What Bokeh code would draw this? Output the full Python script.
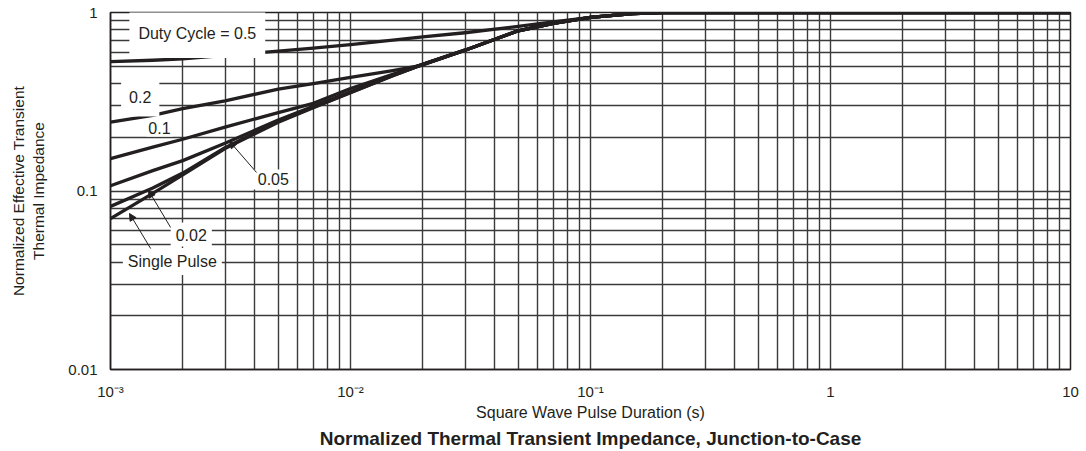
from bokeh.plotting import figure
from bokeh.models import FixedTicker, Label, Arrow, NormalHead, Title
from bokeh.embed import file_html
from bokeh.resources import INLINE

# ---- data (x: pulse duration in s, y: normalized Zth) ----
pulse_s = [0.001, 0.0015, 0.002, 0.003, 0.005, 0.007, 0.01, 0.015, 0.02, 0.03,
           0.05, 0.07, 0.1, 0.15, 0.2, 0.5, 1, 10]
z_d05 = [0.531, 0.54, 0.55, 0.575, 0.607, 0.632, 0.66, 0.70, 0.73, 0.77,
         0.835, 0.885, 0.94, 0.985, 1.0, 1.0, 1.0, 1.0]
z_d02 = [0.243, 0.265, 0.289, 0.32, 0.372, 0.40, 0.433, 0.473, 0.508, 0.615,
         0.79, 0.87, 0.94, 0.985, 1.0, 1.0, 1.0, 1.0]
z_d01 = [0.152, 0.176, 0.195, 0.228, 0.275, 0.31, 0.375, 0.45, 0.512, 0.615,
         0.79, 0.87, 0.94, 0.985, 1.0, 1.0, 1.0, 1.0]
z_d005 = [0.107, 0.13, 0.148, 0.185, 0.25, 0.298, 0.36, 0.445, 0.512, 0.615,
          0.79, 0.87, 0.94, 0.985, 1.0, 1.0, 1.0, 1.0]
z_d002 = [0.082, 0.104, 0.126, 0.175, 0.245, 0.295, 0.357, 0.443, 0.512, 0.615,
          0.79, 0.87, 0.94, 0.985, 1.0, 1.0, 1.0, 1.0]
z_single = [0.070, 0.097, 0.123, 0.173, 0.243, 0.293, 0.355, 0.442, 0.512, 0.615,
            0.79, 0.87, 0.94, 0.985, 1.0, 1.0, 1.0, 1.0]
series = [z_d05, z_d02, z_d01, z_d005, z_d002, z_single]

x_major = [0.001, 0.01, 0.1, 1, 10]
x_labels = ["10⁻³", "10⁻²", "10⁻¹", "1", "10"]
y_major = [0.01, 0.1, 1]
y_labels = ["0.01", "0.1", "1"]

curve_labels = ["Duty Cycle = 0.5", "0.2", "0.1", "0.05", "0.02", "Single Pulse"]
label_x = [2.3e-3, 1.33e-3, 1.60e-3, 4.77e-3, 2.17e-3, 1.81e-3]
label_y = [0.763, 0.338, 0.224, 0.116, 0.057, 0.0403]
label_pad = [(9, 16), (8, 14), (2, 2), (6, 4), (5, 6), (5, 5)]

# arrows (from label to curve) for 0.05, 0.02, Single Pulse
arrow_x0 = [4.06e-3, 1.78e-3, 1.47e-3]
arrow_y0 = [0.127, 0.0625, 0.0476]
arrow_x1 = [3.13e-3, 1.44e-3, 1.20e-3]
arrow_y1 = [0.19, 0.1007, 0.0748]

title_text = "Normalized Thermal Transient Impedance, Junction-to-Case"
x_title = "Square Wave Pulse Duration (s)"
y_title = "Normalized Effective Transient\nThermal Impedance"

FONT = "Liberation Sans"
INK = "#231f20"
GRID = "#3a3a3a"


def minor_of(majors):
    out = []
    for m in majors[:-1]:
        out += [m * k for k in range(2, 10)]
    return out


p = figure(width=1080, height=450, x_axis_type="log", y_axis_type="log",
           x_range=(1e-3, 10), y_range=(0.01, 1),
           output_backend="svg", toolbar_location=None,
           min_border_left=110, min_border_right=10, min_border_top=12,
           min_border_bottom=81)

xt = FixedTicker(ticks=x_major, minor_ticks=minor_of(x_major))
yt = FixedTicker(ticks=y_major, minor_ticks=minor_of(y_major))
p.xaxis.ticker = xt
p.yaxis.ticker = yt
p.xgrid.ticker = xt
p.ygrid.ticker = yt
p.xaxis.major_label_overrides = dict(zip(x_major, x_labels))
p.yaxis.major_label_overrides = dict(zip(y_major, y_labels))

for ax in (p.xaxis, p.yaxis):
    ax.major_tick_in = 0
    ax.major_tick_out = 0
    ax.minor_tick_in = 0
    ax.minor_tick_out = 0
    ax.axis_line_color = INK
    ax.axis_line_width = 1.5
    ax.major_label_text_font = FONT
    ax.major_label_text_font_size = "15px"
    ax.major_label_text_color = INK
    ax.axis_label_text_font = FONT
    ax.axis_label_text_font_style = "normal"
    ax.axis_label_text_color = INK

p.xaxis.axis_label_text_font_size = "16px"
p.yaxis.axis_label_text_font_size = "15.5px"
p.xaxis.axis_label = x_title
p.yaxis.axis_label = y_title
p.xaxis.major_label_standoff = 13
p.yaxis.major_label_standoff = 13
p.xaxis.axis_label_standoff = 1
p.yaxis.axis_label_standoff = 18

for g in (p.xgrid, p.ygrid):
    g.grid_line_color = GRID
    g.grid_line_width = 1.4
    g.minor_grid_line_color = GRID
    g.minor_grid_line_width = 1.4

p.outline_line_color = INK
p.outline_line_width = 1.5
p.background_fill_color = "white"
p.border_fill_color = "white"

for z in series:
    p.line(pulse_s, z, line_width=3.3, line_color=INK, line_join="round", line_cap="round")

for txt, lx, ly, pad in zip(curve_labels, label_x, label_y, label_pad):
    p.add_layout(Label(x=lx, y=ly, text=txt, text_align="center", text_baseline="middle",
                       text_font=FONT, text_font_size="16px", text_color=INK,
                       background_fill_color="white", padding=pad))

for x0, y0, x1, y1 in zip(arrow_x0, arrow_y0, arrow_x1, arrow_y1):
    p.add_layout(Arrow(x_start=x0, y_start=y0, x_end=x1, y_end=y1,
                       line_color=INK, line_width=1,
                       end=NormalHead(size=7, fill_color=INK, line_color=INK, line_width=1)))

p.add_layout(Title(text=title_text, align="center", text_font=FONT, text_font_size="19px",
                   text_font_style="bold", text_color=INK, standoff=4), "below")

open("out.html", "w").write(file_html(p, INLINE))
